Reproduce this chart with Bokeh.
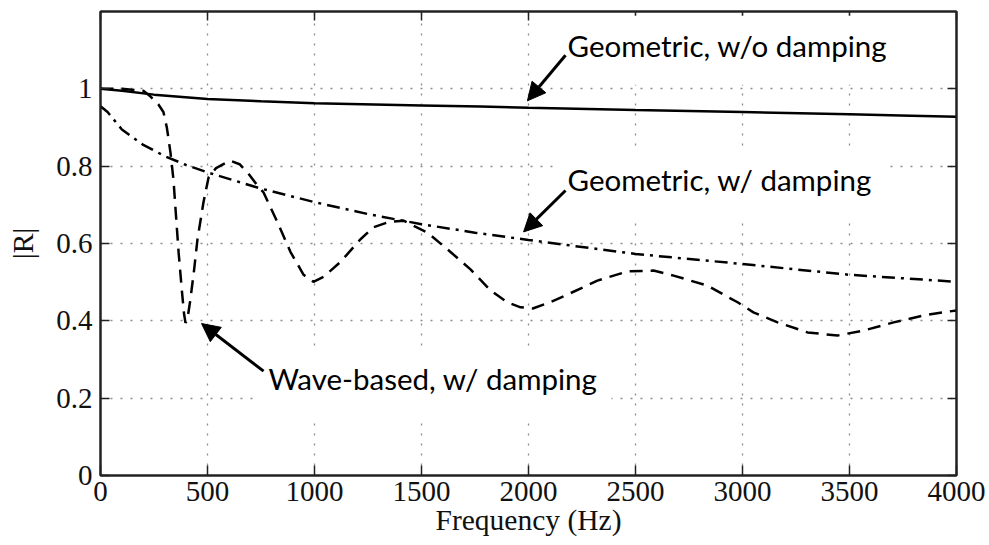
from bokeh.plotting import figure
from bokeh.models import (Range1d, LinearAxis, FixedTicker, Label, Arrow, NormalHead,
                          CustomLabelingPolicy)
from bokeh.embed import file_html
from bokeh.resources import INLINE

# ---- data ----
freq_geo_nodamp = [0, 100, 250, 500, 750, 1000, 1500, 1775, 2000, 2500, 3000, 3500, 3738, 4000]
r_geo_nodamp = [1.0, 0.995, 0.985, 0.974, 0.968, 0.963, 0.957, 0.954, 0.951, 0.945, 0.940, 0.934,
                0.931, 0.928]

freq_geo_damp = [0, 33, 100, 200, 300, 400, 500, 750, 1000, 1250, 1500, 1750, 2000, 2500, 3000, 3500, 4000]
r_geo_damp = [0.955, 0.940, 0.895, 0.855, 0.826, 0.803, 0.784, 0.742, 0.707, 0.676, 0.650, 0.628, 0.609,
              0.573, 0.547, 0.519, 0.501]

freq_wave = [0, 100, 200, 234, 270, 294, 310, 327, 341, 353, 365, 380, 390, 397, 405, 420, 437, 453,
             481, 505, 540, 570, 607, 650, 687, 733, 762, 827, 888, 949, 995, 1043, 1121, 1215, 1276,
             1350, 1416, 1528, 1621, 1729, 1822, 1900, 1963, 2020, 2100, 2182, 2322, 2463, 2584, 2678,
             2836, 2977, 3051, 3164, 3304, 3444, 3566, 3706, 3864, 4000]
r_wave = [1.0, 1.0, 0.995, 0.98, 0.96, 0.94, 0.90, 0.835, 0.765, 0.67, 0.577, 0.48, 0.42, 0.395, 0.40,
          0.455, 0.53, 0.61, 0.706, 0.771, 0.795, 0.804, 0.814, 0.805, 0.784, 0.75, 0.732, 0.655, 0.578,
          0.519, 0.501, 0.514, 0.552, 0.611, 0.642, 0.656, 0.659, 0.628, 0.585, 0.533, 0.479, 0.448,
          0.435, 0.432, 0.448, 0.468, 0.504, 0.528, 0.530, 0.517, 0.491, 0.448, 0.422, 0.396, 0.370,
          0.362, 0.375, 0.396, 0.416, 0.427]

x_ticks = [0, 500, 1000, 1500, 2000, 2500, 3000, 3500, 4000]
x_tick_labels = ["0", "500", "1000", "1500", "2000", "2500", "3000", "3500", "4000"]
y_ticks = [0, 0.2, 0.4, 0.6, 0.8, 1.0]
y_tick_labels = ["0", "0.2", "0.4", "0.6", "0.8", "1"]

x_label = "Frequency (Hz)"
y_label = "|R|"

# annotations: text, text anchor (x, y), arrow start, arrow end (data units)
ann_texts = ["Geometric, w/o damping", "Geometric, w/ damping", "Wave-based, w/ damping"]
ann_text_pos = [(2136, 1.100), (2136, 0.753), (738, 0.239)]
ann_arrow_start = [(2173, 1.087), (2173, 0.737), (762, 0.270)]
ann_arrow_end = [(1995, 0.969), (1977, 0.630), (472, 0.393)]

# ---- figure ----
p = figure(width=989, height=545, output_backend="svg", toolbar_location=None,
           x_range=Range1d(0, 4000), y_range=Range1d(0, 1.2),
           min_border_left=100, min_border_right=33, min_border_top=8, min_border_bottom=70,
           x_axis_location=None, y_axis_location=None)
p.background_fill_color = "white"
p.border_fill_color = "white"
p.outline_line_color = "#222222"
p.outline_line_width = 2

tick_font = "Liberation Serif"
axis_color = "#222222"


def style_axis(ax, ticks, labels, show_labels, tick_len):
    ax.ticker = FixedTicker(ticks=ticks)
    ax.minor_tick_line_color = None
    ax.major_tick_in = tick_len
    ax.major_tick_out = 0
    ax.axis_line_color = axis_color
    ax.axis_line_width = 2
    ax.major_tick_line_color = axis_color
    ax.major_tick_line_width = 1.5
    if show_labels:
        ax.major_label_overrides = {t: l for t, l in zip(ticks, labels)}
        ax.major_label_text_font = tick_font
        ax.major_label_text_font_size = "29px"
        ax.major_label_text_color = "#111111"
        ax.axis_label_text_font = tick_font
        ax.axis_label_text_font_size = "29.5px"
        ax.axis_label_text_font_style = "normal"
        ax.axis_label_text_color = "#111111"
    else:
        ax.major_label_policy = CustomLabelingPolicy(code="return []")
        ax.major_label_standoff = 0


xb = LinearAxis(axis_label=x_label)
style_axis(xb, x_ticks, x_tick_labels, True, 10)
xb.major_label_standoff = 6
xb.axis_label_standoff = 0
p.add_layout(xb, "below")

yl = LinearAxis(axis_label=y_label)
style_axis(yl, y_ticks, y_tick_labels, True, 9)
yl.major_label_standoff = 8
yl.axis_label_standoff = 14
p.add_layout(yl, "left")

xt = LinearAxis()
style_axis(xt, x_ticks, x_tick_labels, False, 9)
p.add_layout(xt, "above")

yr = LinearAxis()
style_axis(yr, y_ticks, y_tick_labels, False, 9)
p.add_layout(yr, "right")

p.xgrid.ticker = FixedTicker(ticks=x_ticks)
p.ygrid.ticker = FixedTicker(ticks=y_ticks)
for g in (p.xgrid, p.ygrid):
    g.grid_line_color = "#8c8c8c"
    g.grid_line_dash = "2 8"
    g.grid_line_width = 1.3

p.line(freq_geo_nodamp, r_geo_nodamp, line_color="black", line_width=2.5)
p.line(freq_geo_damp, r_geo_damp, line_color="black", line_width=2.5, line_dash="13 6 3 6")
p.line(freq_wave, r_wave, line_color="black", line_width=2.5, line_dash="13 8")

for txt, (tx, ty) in zip(ann_texts, ann_text_pos):
    p.add_layout(Label(x=tx, y=ty, text=txt, text_font="Lato", text_font_size="29.5px",
                       text_color="black", text_baseline="alphabetic",
                       background_fill_color="white", padding=(10, 14, 12, 22)))

for (sx, sy), (ex, ey) in zip(ann_arrow_start, ann_arrow_end):
    p.add_layout(Arrow(x_start=sx, y_start=sy, x_end=ex, y_end=ey, line_color="black", line_width=3,
                       end=NormalHead(size=18, fill_color="black", line_color="black", line_width=1)))

open("out.html", "w").write(file_html(p, INLINE))
